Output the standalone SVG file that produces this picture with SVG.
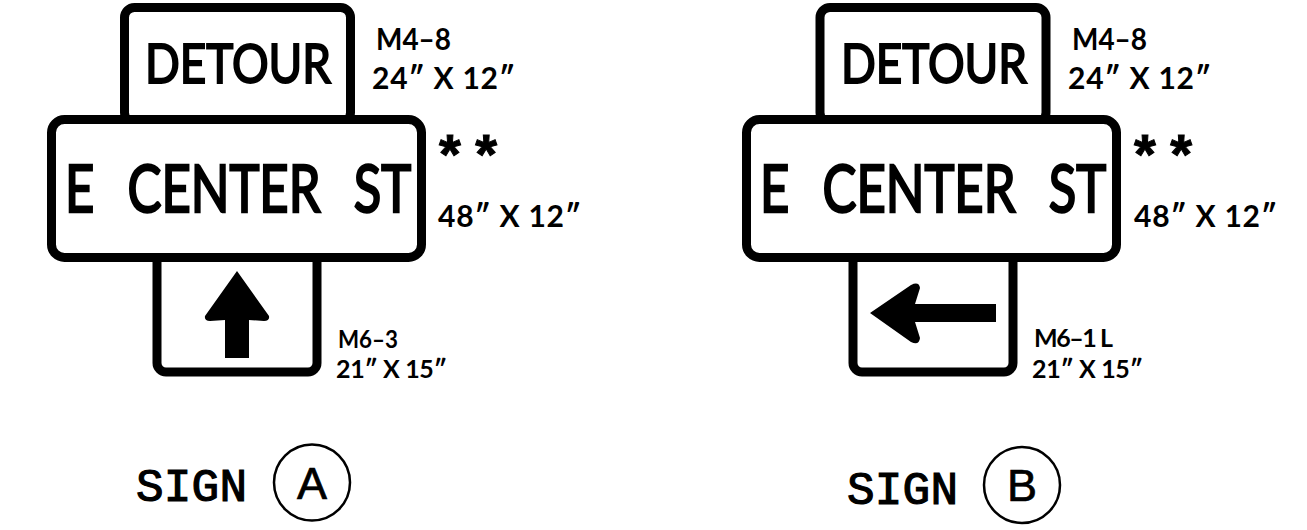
<svg xmlns="http://www.w3.org/2000/svg" width="1307" height="530" viewBox="0 0 1307 530">
<style>
.b{fill:#fff;stroke:#000;stroke-width:9}
.s{font-family:"Lato","Liberation Sans",sans-serif;font-weight:700;fill:#000}
.h{font-family:"Lato","Liberation Sans",sans-serif;font-weight:400;fill:#000;stroke:#000}
.big{font-size:54px;stroke-width:2px}
.mid{font-size:65px;stroke-width:2.4px;word-spacing:26px}
.l{font-size:30px}
.m{font-size:25px}
.sg{font-family:"Liberation Mono",monospace;font-size:46px;font-weight:400;fill:#000;stroke:#000;stroke-width:1.2}
.c{fill:none;stroke:#000;stroke-width:2.5}
.ltr{font-family:"Liberation Sans",sans-serif;font-size:45px;fill:#000;stroke:#000;stroke-width:.7;text-anchor:middle}
.star{font-family:"Liberation Sans",sans-serif;font-weight:700;font-size:56px;fill:#000;stroke:#000;stroke-width:1}
</style>
<rect width="1307" height="530" fill="#fff"/>
<g id="sign-a">
<g id="a-detour"><rect class="b" x="124.500" y="7.500" width="226" height="115" rx="10"/><text class="h big" x="145" y="83" textLength="186" lengthAdjust="spacingAndGlyphs">DETOUR</text></g>
<g id="a-arrow"><rect class="b" x="157" y="240" width="160" height="132" rx="9"/><path d="M237 271L269 316Q270 321 264 321L249 320V358H225V320L210 321Q204 321 205 316Z" fill="#000"/></g>
<g id="a-street"><rect class="b" x="51.500" y="119.500" width="370" height="138" rx="13"/><text class="h mid" transform="translate(65 212) scale(.805 1)" x="0" y="0" textLength="430" lengthAdjust="spacingAndGlyphs">E CENTER ST</text></g>
<text class="s l" x="376" y="50" textLength="75" lengthAdjust="spacingAndGlyphs">M4–8</text>
<text class="s l" x="372" y="89" textLength="143" lengthAdjust="spacing">24″ X 12″</text>
<text class="star" x="439" y="173" textLength="58" lengthAdjust="spacing">**</text>
<text class="s l" x="438" y="227" textLength="143" lengthAdjust="spacing">48″ X 12″</text>
<text class="s m" x="338" y="348" textLength="60" lengthAdjust="spacingAndGlyphs">M6–3</text>
<text class="s m" x="336" y="378" textLength="111" lengthAdjust="spacing">21″ X 15″</text>
<text class="sg" x="136" y="501" textLength="111" lengthAdjust="spacing">SIGN</text>
<circle class="c" cx="312" cy="482.500" r="38"/><text class="ltr" x="312" y="499">A</text>
</g>
<g id="sign-b">
<g id="b-detour"><rect class="b" x="820" y="7.500" width="226" height="115" rx="10"/><text class="h big" x="841" y="83" textLength="186" lengthAdjust="spacingAndGlyphs">DETOUR</text></g>
<g id="b-arrow"><rect class="b" x="853" y="240" width="160" height="132" rx="9"/><path d="M870 313L911 285Q919 281 920 288L915 304H996V322H915L920 338Q919 346 911 342Z" fill="#000"/></g>
<g id="b-street"><rect class="b" x="746.500" y="119.500" width="370" height="138" rx="13"/><text class="h mid" transform="translate(760 212) scale(.805 1)" x="0" y="0" textLength="430" lengthAdjust="spacingAndGlyphs">E CENTER ST</text></g>
<text class="s l" x="1072" y="50" textLength="75" lengthAdjust="spacingAndGlyphs">M4–8</text>
<text class="s l" x="1068" y="89" textLength="143" lengthAdjust="spacing">24″ X 12″</text>
<text class="star" x="1134" y="173" textLength="58" lengthAdjust="spacing">**</text>
<text class="s l" x="1134" y="227" textLength="143" lengthAdjust="spacing">48″ X 12″</text>
<text class="s m" x="1034" y="347" textLength="79" lengthAdjust="spacing">M6–1 L</text>
<text class="s m" x="1032" y="378" textLength="111" lengthAdjust="spacing">21″ X 15″</text>
<text class="sg" x="847" y="504" textLength="111" lengthAdjust="spacing">SIGN</text>
<circle class="c" cx="1022" cy="485" r="38"/><text class="ltr" x="1022" y="501">B</text>
</g>
</svg>
